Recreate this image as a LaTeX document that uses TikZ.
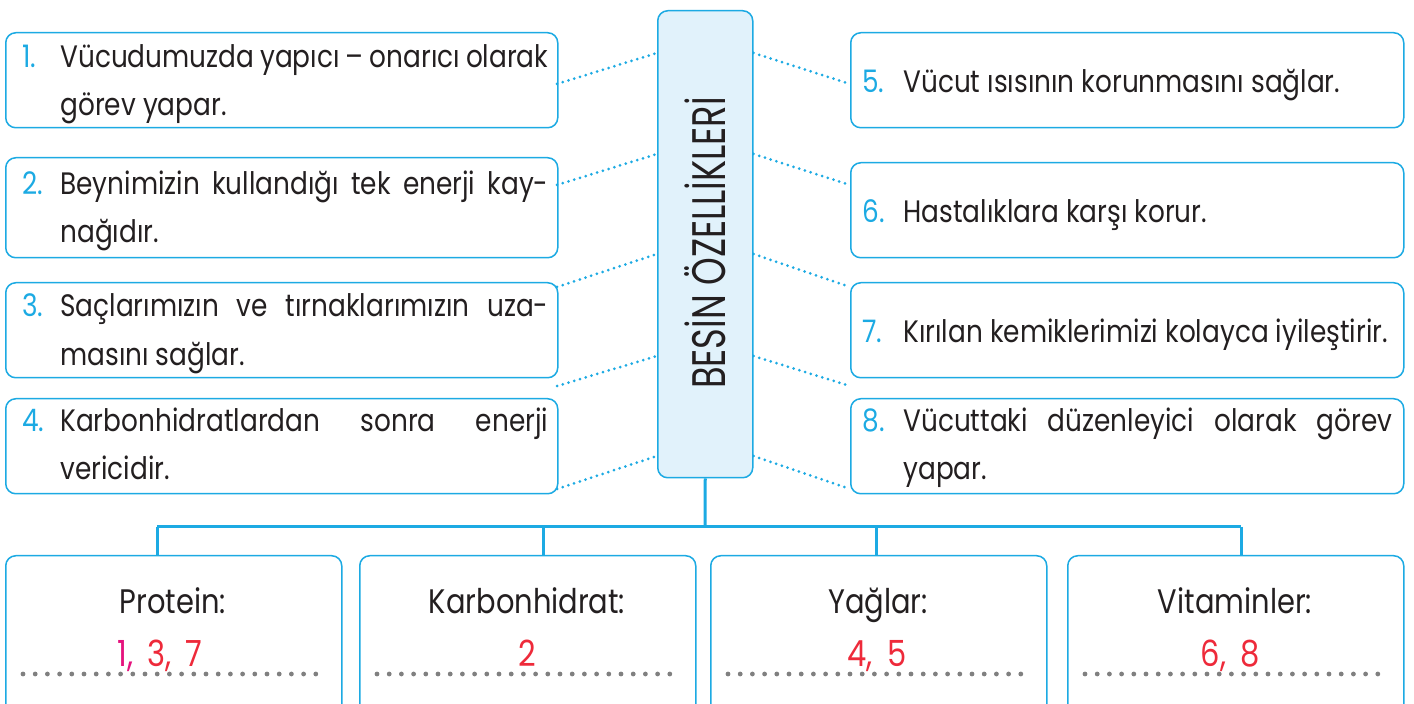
\documentclass[tikz,border=0pt]{standalone}
\usepackage{fontspec}
\setmainfont{Poppins}[FakeStretch=0.85]
\newfontfamily\titlefont{Poppins}[FakeStretch=0.75]
\usetikzlibrary{calc}
\definecolor{cy}{HTML}{1CAAE3}
\definecolor{cfill}{HTML}{E1F2FB}
\definecolor{ans}{HTML}{EE2A3A}
\definecolor{mag}{HTML}{E5127D}
\definecolor{dotg}{HTML}{808080}
\definecolor{txt}{HTML}{231F20}
\newcommand{\jl}[1]{\makebox[244pt][s]{#1}}
\begin{document}
\begin{tikzpicture}[x=0.5pt,y=-0.5pt,
  box/.style={draw=cy, line width=0.75pt, rounded corners=5pt, inner sep=0pt, anchor=north west},
  link/.style={cy, line width=1.5pt, dash pattern=on 0pt off 3pt, line cap=round},
  tree/.style={cy, line width=1.5pt},
  ansline/.style={dotg, line width=2.4pt, dash pattern=on 0pt off 6.1pt, line cap=round},
  num/.style={anchor=base west, inner sep=0pt, text=cy, font=\fontsize{15.5}{17}\selectfont},
  tx/.style={anchor=base west, inner sep=0pt, text=txt, font=\fontsize{15.5}{17}\selectfont},
  ttl/.style={anchor=base, inner sep=0pt, text=txt, font=\fontsize{17}{19}\selectfont},
  an/.style={anchor=base, inner sep=0pt, text=ans, font=\fontsize{18}{20}\selectfont}]
\clip (0,0) rectangle (1414,704);
\fill[white] (0,0) rectangle (1414,704);

% centre box
\node[box, fill=cfill, minimum width=47.5pt, minimum height=233.5pt] (ctr) at (657,10) {};
\node[rotate=90, inner sep=0pt, text=txt, font=\titlefont\fontsize{23.5}{24}\selectfont] (title) at (705,243) {BESİN ÖZELLİKLERİ};

% left boxes
\node[box, minimum width=276pt, minimum height=47.5pt] (b1) at (5,32) {};
\node[box, minimum width=276pt, minimum height=50pt] (b2) at (5,157) {};
\node[box, minimum width=276pt, minimum height=47.5pt] (b3) at (5,282) {};
\node[box, minimum width=276pt, minimum height=47.5pt] (b4) at (5,398) {};
% right boxes
\node[box, minimum width=276.5pt, minimum height=47.5pt] (b5) at (850,32) {};
\node[box, minimum width=276.5pt, minimum height=47.5pt] (b6) at (850,162) {};
\node[box, minimum width=276.5pt, minimum height=47.5pt] (b7) at (850,282) {};
\node[box, minimum width=276.5pt, minimum height=47.5pt] (b8) at (850,398) {};

% texts
\node[num] (n1) at (22,68) {1.};
\node[tx] (t1a) at (60,68) {\jl{Vücudumuzda yapıcı – onarıcı olarak}};
\node[tx] (t1b) at (60,116) {görev yapar.};
\node[num] (n2) at (22,195) {2.};
\node[tx] (t2a) at (60,195) {\jl{Beynimizin kullandığı tek enerji kay-}};
\node[tx] (t2b) at (60,243) {nağıdır.};
\node[num] (n3) at (22,317) {3.};
\node[tx] (t3a) at (60,317) {\jl{Saçlarımızın ve tırnaklarımızın uza-}};
\node[tx] (t3b) at (60,366) {masını sağlar.};
\node[num] (n4) at (22,432) {4.};
\node[tx] (t4a) at (60,432) {\jl{Karbonhidratlardan sonra enerji}};
\node[tx] (t4b) at (60,480) {vericidir.};

\node[num] (n5) at (862,93) {5.};
\node[tx] (t5) at (903,93) {Vücut ısısının korunmasını sağlar.};
\node[num] (n6) at (862,223) {6.};
\node[tx] (t6) at (903,223) {Hastalıklara karşı korur.};
\node[num] (n7) at (862,343) {7.};
\node[tx] (t7) at (903,343) {Kırılan kemiklerimizi kolayca iyileştirir.};
\node[num] (n8) at (862,432) {8.};
\node[tx] (t8a) at (903,432) {\makebox[244.5pt][s]{Vücuttaki düzenleyici olarak görev}};
\node[tx] (t8b) at (903,480) {yapar.};

% dotted connectors
\foreach \i/\cy/\oy in {1/53/84, 2/154/185, 3/254/287, 4/356/386, 5/456/489} {
  \coordinate (cl\i) at (ctr.west |- {(0,\cy)});
  \coordinate (cr\i) at (ctr.east |- {(0,\cy)});
  \coordinate (ol\i) at (557,\oy);
  \coordinate (or\i) at (850,\oy);
  \draw[link] (ol\i) -- (cl\i);
  \draw[link] (cr\i) -- (or\i);
}

% bottom boxes
\node[box, minimum width=168pt, minimum height=85pt] (pA) at (5,555) {};
\node[box, minimum width=168pt, minimum height=85pt] (pB) at (359,555) {};
\node[box, minimum width=168pt, minimum height=85pt] (pC) at (710,555) {};
\node[box, minimum width=168pt, minimum height=85pt] (pD) at (1067,555) {};

% tree
\coordinate (j) at (705,527);
\coordinate (kA) at (157,527);
\coordinate (kB) at (543,527);
\coordinate (kC) at (876,527);
\coordinate (kD) at (1241,527);
\draw[tree] (ctr.south) -- (j);
\draw[tree] (kA) -- (kD);
\draw[tree] (kA) -- (kA |- pA.north);
\draw[tree] (kB) -- (kB |- pB.north);
\draw[tree] (kC) -- (kC |- pC.north);
\draw[tree] (kD) -- (kD |- pD.north);

% titles
\node[ttl] (hA) at (173,614) {Protein:};
\node[ttl] (hB) at (527,614) {Karbonhidrat:};
\node[ttl] (hC) at (878,614) {Yağlar:};
\node[ttl] (hD) at (1235,614) {Vitaminler:};

% answer lines
\foreach \p in {pA,pB,pC,pD} {
  \draw[ansline] ($(\p.north west)+(18,119)$) -- ($(\p.north east)+(-16,119)$);
}
\node[an] (aA) at (160,667) {\textcolor{mag}{1,}\hspace{7pt}3,\hspace{7pt}7};
\node[an] (aB) at (527,667) {2};
\node[an] (aC) at (877,667) {4,\hspace{7pt}5};
\node[an] (aD) at (1230,667) {6,\hspace{7pt}8};
\end{tikzpicture}
\end{document}
